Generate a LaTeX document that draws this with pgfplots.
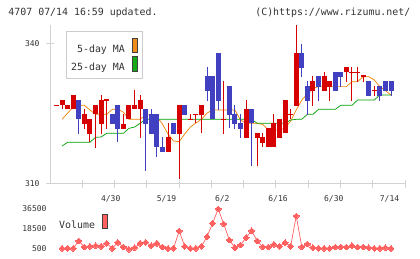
\documentclass[border=0pt]{standalone}
\usepackage{fontspec}
\usepackage{pgfplots}
\usepackage{pgfplotstable}
\pgfplotsset{compat=1.18}
\newfontfamily\mono{DejaVu Sans Mono}
\newcommand\tickfont{\mono\fontsize{8}{8}\selectfont}
\newcommand\labfont{\mono\fontsize{9.9}{10}\selectfont}

\definecolor{axisgray}{RGB}{210,210,210}
\definecolor{txtgray}{RGB}{51,51,51}
\definecolor{candlered}{RGB}{214,0,0}
\definecolor{candleblue}{RGB}{64,64,192}
\definecolor{maorange}{RGB}{240,128,0}
\definecolor{magreen}{RGB}{0,160,0}
\definecolor{swatchorange}{RGB}{240,140,30}
\definecolor{swatchgreen}{RGB}{20,170,20}
\definecolor{volred}{RGB}{255,96,96}
\definecolor{legendgray}{RGB}{204,204,204}

% rising sessions: x low high body-bottom body-top
\pgfplotstableread{
x lo hi bot top
0 326.86 326.86 326.86 326.86
1 326.00 328.00 326.86 328.00
2 326.00 326.86 326.00 326.86
3 326.00 329.07 326.00 329.07
5 321.85 326.07 322.90 325.00
6 319.07 323.93 320.78 323.93
7 317.78 326.93 324.93 326.93
8 320.80 329.00 322.93 328.00
9 321.85 328.00 328.00 328.00
12 321.85 324.93 321.85 322.93
13 323.86 326.93 323.86 326.93
14 326.00 330.14 326.00 326.93
15 319.93 329.00 326.00 328.00
20 316.93 323.00 316.93 320.00
22 311.00 326.93 320.71 326.93
24 323.86 325.00 323.86 323.86
25 323.00 324.93 324.93 324.93
26 320.86 326.93 324.79 326.93
30 320.71 332.14 323.86 323.86
34 319.93 328.00 319.93 326.00
36 313.86 320.86 319.86 320.86
37 317.86 321.00 318.86 320.14
38 317.86 322.00 317.86 322.00
39 317.86 325.00 317.86 323.00
40 319.93 323.93 319.93 323.93
41 320.87 328.00 320.87 328.00
42 323.86 326.00 324.93 324.93
43 326.71 344.00 326.71 338.14
46 326.71 333.14 329.93 332.07
48 329.93 333.93 329.93 333.14
49 327.79 332.07 330.86 332.07
52 331.93 335.07 333.93 335.07
53 327.79 335.07 333.93 333.93
54 331.93 335.07 333.93 333.93
55 331.93 333.14 333.14 333.14
57 328.86 331.07 330.00 330.00
}\upcandles

% falling sessions: x low high body-bottom body-top
\pgfplotstableread{
x lo hi bot top
4 320.78 328.00 323.86 328.00
10 322.93 324.93 322.93 324.93
11 318.93 326.93 321.85 326.93
16 312.86 326.07 322.86 326.07
17 320.71 326.07 320.71 325.00
18 315.80 325.00 317.86 325.00
19 316.93 320.00 316.93 317.86
21 320.71 323.00 320.71 323.00
23 324.79 326.93 324.79 326.93
27 327.86 335.14 330.00 333.14
28 323.86 333.14 323.86 333.14
29 325.86 338.00 327.86 338.00
31 321.93 331.00 324.79 331.00
32 321.80 326.93 322.86 324.93
33 319.93 324.93 321.79 323.00
35 313.86 326.00 323.00 326.00
44 333.00 340.00 334.93 338.14
45 324.79 332.07 327.79 331.00
47 327.79 333.14 330.86 333.14
50 329.93 333.93 329.93 333.93
51 330.86 333.93 333.00 333.93
56 328.86 332.07 328.86 332.07
58 327.79 331.00 328.86 331.00
59 329.93 332.07 329.93 332.07
60 328.86 332.07 329.93 332.07
}\downcandles

% sessions that closed at the open
\pgfplotstableread{
x v
0 326.86
9 328.00
24 323.86
25 324.93
30 323.86
42 324.93
53 333.93
54 333.93
55 333.14
57 330.00
}\dojis

% moving averages: x ma5 ma25
\pgfplotstableread{
x ma5 ma25
1 323.86 318.14
2 325.20 318.93
3 326.50 318.93
4 326.86 318.93
5 326.86 318.93
6 325.86 318.93
7 324.93 320.00
8 324.93 320.07
9 324.93 320.86
10 326.00 320.86
11 326.00 320.86
12 325.40 320.86
13 323.86 321.93
14 323.86 322.20
15 323.86 323.00
16 324.79 323.86
17 324.79 323.86
18 324.36 323.86
19 322.86 323.86
20 320.71 323.86
21 319.20 323.86
22 319.07 323.86
23 320.71 323.86
24 322.20 323.86
25 323.07 323.86
26 323.86 323.86
27 325.20 323.86
28 325.86 323.86
29 325.86 323.86
30 325.86 323.86
31 325.86 323.86
32 325.86 323.86
33 323.71 323.86
34 323.00 323.86
35 323.00 323.86
36 323.00 323.00
37 322.75 323.00
38 321.57 323.00
39 321.57 323.00
40 321.57 323.00
41 322.00 323.00
42 323.50 323.71
43 325.86 323.86
44 328.00 323.86
45 329.29 324.93
46 330.50 324.93
47 330.86 326.00
48 330.86 326.00
49 330.86 326.00
50 330.86 326.00
51 330.86 326.86
52 330.86 326.86
53 331.93 326.86
54 331.93 328.00
55 333.00 328.00
56 333.00 328.00
57 332.29 328.00
58 330.86 329.07
59 330.00 329.07
60 329.07 329.07
}\averages

% daily volume
\pgfplotstableread{
x vol
1 1130
2 1130
3 1130
4 7700
5 2300
6 2930
7 3470
8 2930
9 5630
10 1130
11 6530
12 2300
13 300
14 1670
15 5630
16 6530
17 3470
18 5630
19 2300
20 1130
21 1130
22 16700
23 2930
24 1130
25 1130
26 2930
27 11570
28 23630
29 36500
30 23000
31 8600
32 1670
33 4100
34 10670
35 16970
36 7700
37 2300
38 2300
39 4730
40 2930
41 6170
42 2930
43 30200
44 2300
45 5000
46 1670
47 1130
48 1130
49 1130
50 2300
51 2300
52 2300
53 3470
54 2300
55 2300
56 1670
57 1130
58 1130
59 1670
60 1130
}\volumes

\begin{document}
\begin{tikzpicture}[x=1pt,y=1pt]
\useasboundingbox (0,0) rectangle (420,259);

\node[anchor=west, inner sep=0pt, font=\labfont, text=txtgray] at (8.3,246.3) {4707 07/14 16:59 updated.};
\node[anchor=east, inner sep=0pt, font=\labfont, text=txtgray] at (410.5,246.3) {(C)https://www.rizumu.net/};

% price panel
\begin{axis}[
  at={(50pt,75pt)}, anchor=south west,
  scale only axis, width=355pt, height=159pt,
  xmin=-1.165, xmax=62.51, ymin=310, ymax=344.07,
  axis x line*=bottom, axis y line*=left,
  axis line style={draw=axisgray, line width=1pt, -},
  tick style={draw=axisgray, line width=1pt},
  tick align=center, major tick length=8pt,
  ytick={310,340}, yticklabels={310,340},
  yticklabel style={xshift=-3pt},
  xtick={4.624,10.412,16.201,21.99,27.778,33.567,39.355,45.144,50.933,56.721,62.51},
  xticklabels={},
  extra x ticks={10,20,30,40,50,60},
  extra x tick labels={4/30,5/19,6/2,6/16,6/30,7/14},
  extra x tick style={tick style={draw=none}, xticklabel style={yshift=-4pt, xshift=-1.5pt}},
  tick label style={font=\tickfont, text=txtgray},
  legend plot pos=right,
  legend cell align=right,
  legend style={at={(rel axis cs:0.0442,0.962)}, anchor=north west,
    draw=legendgray, line width=1pt, fill=white, font=\labfont, text=txtgray,
    inner xsep=5pt, inner ysep=6pt, row sep=2.7pt, column sep=7pt,
    nodes={inner sep=0pt}},
]
\addplot[maorange, line width=0.7pt,
  legend image code/.code={\draw[fill=swatchorange, draw=black!75, line width=0.8pt] (0.4pt,-3pt) rectangle (5.2pt,11.2pt);}]
  table[x=x, y=ma5] {\averages};
\addlegendentry{5-day MA}
\addplot[magreen, line width=0.7pt,
  legend image code/.code={\draw[fill=swatchgreen, draw=black!75, line width=0.8pt] (0.4pt,-3pt) rectangle (5.2pt,11.2pt);}]
  table[x=x, y=ma25] {\averages};
\addlegendentry{25-day MA}

% wicks
\addplot[forget plot, draw=none, mark=none,
  error bars/.cd, y dir=plus, y explicit, error mark=none,
  error bar style={draw=candlered, line width=1pt}]
  table[x=x, y=lo, y error plus expr=\thisrow{hi}-\thisrow{lo}] {\upcandles};
\addplot[forget plot, draw=none, mark=none,
  error bars/.cd, y dir=plus, y explicit, error mark=none,
  error bar style={draw=candleblue, line width=1pt}]
  table[x=x, y=lo, y error plus expr=\thisrow{hi}-\thisrow{lo}] {\downcandles};
% bodies
\addplot[forget plot, draw=none, mark=none,
  error bars/.cd, y dir=plus, y explicit, error mark=none,
  error bar style={draw=candlered, line width=5pt}]
  table[x=x, y=bot, y error plus expr=\thisrow{top}-\thisrow{bot}] {\upcandles};
\addplot[forget plot, draw=none, mark=none,
  error bars/.cd, y dir=plus, y explicit, error mark=none,
  error bar style={draw=candleblue, line width=5pt}]
  table[x=x, y=bot, y error plus expr=\thisrow{top}-\thisrow{bot}] {\downcandles};
\addplot[forget plot, only marks, mark=-, mark size=2.6pt,
  mark options={draw=candlered, line width=1.2pt}]
  table[x=x, y=v] {\dojis};
\end{axis}

% volume panel
\begin{axis}[
  at={(50pt,7pt)}, anchor=south west,
  scale only axis, width=355pt, height=47pt,
  xmin=-1.165, xmax=62.51, ymin=-2200, ymax=40100,
  axis x line=none, axis y line*=left,
  axis line style={draw=none},
  xtick=\empty,
  ytick={500,18500,36500}, yticklabels={500,18500,36500},
  ytick style={draw=none},
  scaled y ticks=false,
  tick label style={font=\tickfont, text=txtgray},
  clip=false,
  legend plot pos=right,
  legend style={at={(rel axis cs:0.0254,0.645)}, anchor=west,
    draw=none, fill=none, font=\labfont, text=txtgray,
    inner sep=0pt, column sep=7pt, nodes={inner sep=0pt}},
]
\addplot[volred, line width=0.7pt, mark=square*, mark size=2.1pt,
  mark options={rotate=45, fill=volred, draw=volred, line width=0pt},
  legend image code/.code={\draw[fill=volred, draw=black!75, line width=0.8pt] (0.4pt,-3pt) rectangle (5.2pt,11.2pt);}]
  table[x=x, y=vol] {\volumes};
\addlegendentry{Volume}
\end{axis}
\end{tikzpicture}
\end{document}
